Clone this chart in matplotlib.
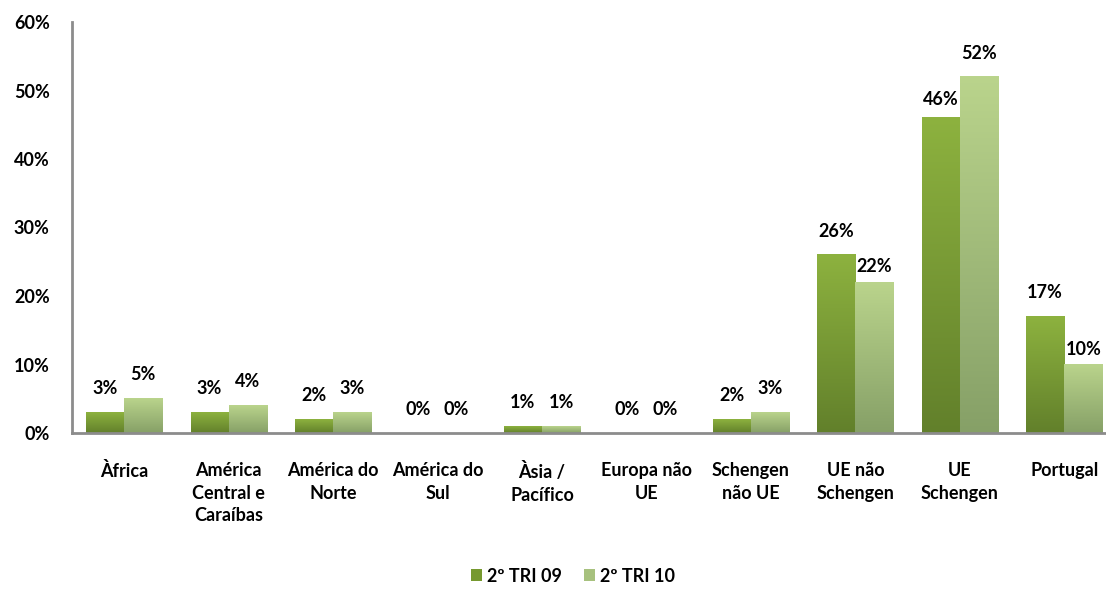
import numpy as np
import matplotlib.pyplot as plt
from matplotlib.colors import LinearSegmentedColormap
from matplotlib.patches import Patch

categorias = ["Àfrica", "América\nCentral e\nCaraíbas", "América do\nNorte", "América do\nSul",
              "Àsia /\nPacífico", "Europa não\nUE", "Schengen\nnão UE", "UE não\nSchengen",
              "UE\nSchengen", "Portugal"]
tri09 = [3, 3, 2, 0, 1, 0, 2, 26, 46, 17]
tri10 = [5, 4, 3, 0, 1, 0, 3, 22, 52, 10]
series = ["2º TRI 09", "2º TRI 10"]

plt.rcParams["font.family"] = ["Lato", "DejaVu Sans"]
plt.rcParams["font.weight"] = "bold"
fs = 13

cm_escuro = LinearSegmentedColormap.from_list("escuro", ["#62802b", "#8db23f"])
cm_claro = LinearSegmentedColormap.from_list("claro", ["#86a067", "#bad48c"])

fig = plt.figure(figsize=(11.06, 5.89), dpi=100)
ax = fig.add_axes([72 / 1106, 1 - 433 / 589, 1 - 72 / 1106, (433 - 22) / 589])

x = np.arange(len(categorias))
w = 0.365
grad = np.linspace(0, 1, 256).reshape(-1, 1)

# rótulos que o Excel colocou mais perto da barra
ajuste = {(0, 8): 7, (1, 7): 5, (1, 9): 5}

for k, (vals, off, cmap) in enumerate([(tri09, -w / 2, cm_escuro), (tri10, w / 2, cm_claro)]):
    for xi, v in zip(x, vals):
        if v > 0:
            ax.imshow(grad, extent=[xi + off - w / 2, xi + off + w / 2, 0, v], origin="lower",
                      cmap=cmap, aspect="auto", zorder=2)
        dy = ajuste.get((k, xi), 11)
        ax.annotate(f"{v}%", (xi + off, v), xytext=(0, dy), textcoords="offset points",
                    ha="center", va="bottom", fontsize=fs, fontweight="bold")

ax.set_xlim(-0.5, 9.4)
ax.set_ylim(0, 60)
ax.set_yticks(range(0, 61, 10))
ax.set_yticklabels([f"{t}%" for t in range(0, 61, 10)], fontsize=fs, fontweight="bold")
ax.set_xticks(x)
ax.set_xticklabels(categorias, fontsize=fs, fontweight="bold", linespacing=1.4, va="top")
ax.tick_params(axis="both", length=0)
ax.tick_params(axis="y", pad=16)
ax.tick_params(axis="x", pad=21)

for s in ["top", "right"]:
    ax.spines[s].set_visible(False)
for s in ["left", "bottom"]:
    ax.spines[s].set_color("#8c8c8c")
    ax.spines[s].set_linewidth(2)

handles = [Patch(facecolor="#76992f"), Patch(facecolor="#a7c17e")]
fig.legend(handles, series, loc="center", bbox_to_anchor=(0.518, 0.022), ncol=2, frameon=False,
           handlelength=0.6, handleheight=0.6, handletextpad=0.3, columnspacing=1.2,
           borderpad=0.1, prop={"weight": "bold", "size": fs})

fig.savefig("out.png", dpi=100)
